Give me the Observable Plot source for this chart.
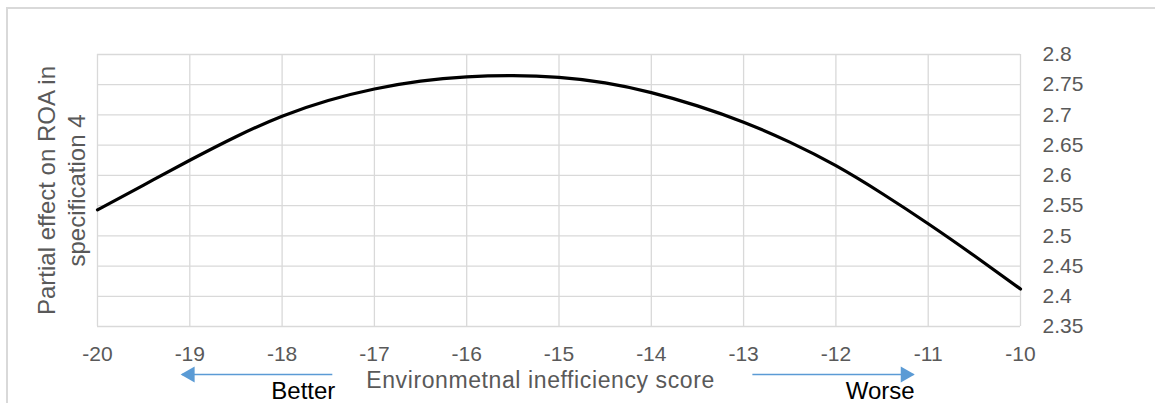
<!DOCTYPE html>
<html><head><meta charset="utf-8">
<script src="https://cdn.jsdelivr.net/npm/d3@7"></script>
<script src="https://cdn.jsdelivr.net/npm/@observablehq/plot@0.6"></script>
<style>
html,body{margin:0;padding:0;background:#fff;overflow:hidden;width:1155px;height:403px}
#frame{position:absolute;left:6px;top:7px;width:1400px;height:600px;border-top:2px solid #d9d9d9;border-left:2px solid #d9d9d9;box-sizing:border-box}
#chart{position:absolute;left:0;top:0}
</style></head><body><div id="frame"></div><div id="chart"></div>
<script>
// Data
const scores = [-20,-19.5,-19,-18.5,-18,-17.5,-17,-16.5,-16,-15.5,-15,-14.5,-14,-13.5,-13,-12.5,-12,-11.5,-11,-10.5,-10];
const partialEffect = [2.543,2.584,2.625,2.664,2.698,2.724,2.743,2.756,2.763,2.765,2.762,2.753,2.737,2.715,2.688,2.655,2.616,2.570,2.520,2.467,2.412];
const xTicks = [-20,-19,-18,-17,-16,-15,-14,-13,-12,-11,-10];
const yTicks = [2.35,2.4,2.45,2.5,2.55,2.6,2.65,2.7,2.75,2.8];
const xTitle = "Environmetnal inefficiency score";
const yTitle = "Partial effect on ROA in\nspecification 4";
// annotation arrows (tail -> tip) and labels, in data units
const arrowTails = [-17.456, -12.905];
const arrowTips = [-19.085, -11.16];
const arrowLevel = 2.2706;
const arrowLabels = ["Better", "Worse"];
const arrowLabelX = [-17.77, -11.52];
const arrowLabelLevel = 2.242;
const xTitlePos = {x: -15.2, y: 2.2608};

const data = scores.map((s, i) => ({score: s, effect: partialEffect[i]}));
const arrows = arrowTails.map((t, i) => ({x1: t, x2: arrowTips[i], y: arrowLevel}));
const labels = arrowLabels.map((t, i) => ({text: t, x: arrowLabelX[i], y: arrowLabelLevel}));

const FONT = "'Liberation Sans', Arial, sans-serif";
const grey = "#595959";

const chart = Plot.plot({
  width: 1155,
  height: 403,
  marginLeft: 97,
  marginRight: 135,
  marginTop: 54,
  marginBottom: 77,
  style: {fontFamily: FONT, fontSize: "21px", color: grey, background: "transparent", overflow: "visible"},
  x: {domain: [-20, -10]},
  y: {domain: [2.35, 2.8]},
  marks: [
    Plot.ruleX(xTicks, {stroke: "#d9d9d9", strokeWidth: 1.3}),
    Plot.ruleY(yTicks, {stroke: "#d9d9d9", strokeWidth: 1.3}),
    Plot.axisX(xTicks, {tickSize: 0, tickPadding: 20, tickFormat: d => String(d), label: null, fill: grey}),
    Plot.axisY(yTicks, {anchor: "right", tickSize: 0, tickPadding: 22, tickFormat: d => String(+d.toFixed(2)), label: null, fill: grey}),
    Plot.line(data, {x: "score", y: "effect", stroke: "black", strokeWidth: 3.2, curve: "natural"}),
    Plot.link(arrows, {x1: "x1", x2: "x2", y1: "y", y2: "y", stroke: "#5b9bd5", strokeWidth: 1.5}),
    Plot.dot(arrows.filter(d => d.x2 < d.x1), {x: "x2", y: "y", symbol: "triangle", r: 6, fill: "#5b9bd5", stroke: "none", rotate: -90, dx: 8}),
    Plot.dot(arrows.filter(d => d.x2 > d.x1), {x: "x2", y: "y", symbol: "triangle", r: 6, fill: "#5b9bd5", stroke: "none", rotate: 90, dx: -8}),
    Plot.text(labels, {x: "x", y: "y", text: "text", fill: "black", fontSize: 24, textAnchor: "middle"}),
    Plot.text([xTitlePos], {x: "x", y: "y", text: () => xTitle, fill: grey, fontSize: 23, textAnchor: "middle"}),
    Plot.text([yTitle], {frameAnchor: "left", dx: -37, rotate: -90, text: d => d, fill: grey, fontSize: 24, lineHeight: 1.25, textAnchor: "middle"})
  ]
});
d3.select(chart).selectAll("text").filter(function() { return this.textContent === xTitle; }).style("letter-spacing", "0.6px");
document.getElementById("chart").appendChild(chart);
</script>
</body></html>
